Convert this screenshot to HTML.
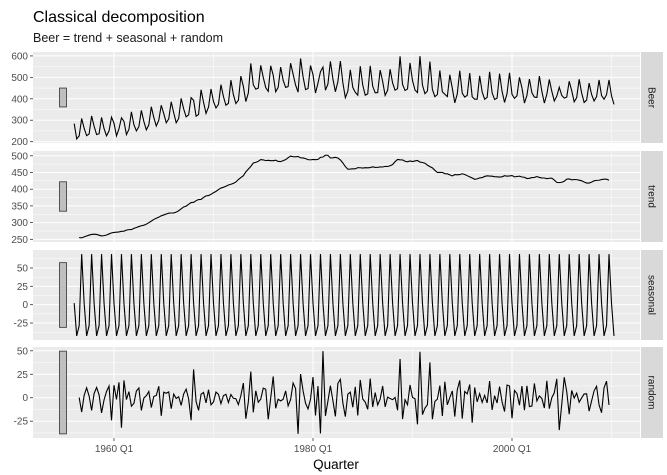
<!DOCTYPE html>
<html><head><meta charset="utf-8"><style>
body{margin:0;background:#fff;}
svg{display:block;font-family:"Liberation Sans",sans-serif;}
</style></head><body>
<svg id="chart" width="667" height="475">
<text x="33" y="22" font-size="16" fill="#000">Classical decomposition</text>
<text x="33" y="42" font-size="12.5" fill="#1a1a1a">Beer = trend + seasonal + random</text>
<text x="336" y="469" font-size="13.5" fill="#000" text-anchor="middle">Quarter</text>
</svg>
<script>
// Quarterly Australian beer production, 1956 Q1 - 2010 Q2
const beer = [284,213,227,308, 262,228,236,320, 272,233,237,313, 261,227,250,314, 286,227,260,311,
295,233,257,339, 279,250,270,346, 294,255,278,363, 313,273,300,370, 331,288,306,386,
335,288,308,402, 353,316,325,405, 393,319,327,442, 383,332,361,446, 387,357,374,466,
410,370,379,487, 419,378,393,506, 458,387,427,565, 465,445,450,556, 500,452,435,554,
510,433,453,548, 486,453,457,566, 515,464,431,588, 503,443,448,555, 513,427,473,526,
548,440,469,575, 493,433,480,576, 475,405,435,535, 453,430,417,552, 464,417,423,554,
459,428,429,534, 481,416,440,538, 474,440,447,598, 467,439,446,567, 485,441,429,599,
464,424,436,574, 443,410,420,532, 433,421,410,512, 449,381,423,531, 426,408,416,520,
409,398,398,507, 432,398,406,526, 428,397,403,517, 435,383,424,521, 421,402,414,500,
451,380,416,492, 428,408,406,506, 435,380,421,490, 435,390,412,454, 416,403,408,482,
438,386,405,491, 427,383,394,473, 420,390,410,488, 415,398,419,488, 414,374];
const startYear = 1956;
const panelNames = ["Beer","trend","seasonal","random"];
const xTickLabels = ["1960 Q1","1980 Q1","2000 Q1"];
const xTickYears = [1960,1980,2000];
const xMinorYears = [1970,1990,2010];
const yTicks = [[200,300,400,500,600],[250,300,350,400,450,500],[-25,0,25,50],[-25,0,25,50]];

// classical additive decomposition
const n = beer.length;
const trend = beer.map((v,i)=> (i>=2 && i<=n-3) ?
  (beer[i-2]/2+beer[i-1]+beer[i]+beer[i+1]+beer[i+2]/2)/4 : null);
const qs=[0,0,0,0], qc=[0,0,0,0];
beer.forEach((v,i)=>{ if(trend[i]!==null){qs[i%4]+=v-trend[i];qc[i%4]++;} });
let qm = qs.map((s,k)=>s/qc[k]);
const mm = qm.reduce((a,b)=>a+b,0)/4; qm = qm.map(v=>v-mm);
const seasonal = beer.map((v,i)=>qm[i%4]);
const random = beer.map((v,i)=> trend[i]===null?null : v-trend[i]-seasonal[i]);
const series=[beer,trend,seasonal,random];

const svg=document.getElementById('chart');
const NS="http://www.w3.org/2000/svg";
function el(tag,attrs,parent){const e=document.createElementNS(NS,tag);for(const k in attrs)e.setAttribute(k,attrs[k]);(parent||svg).appendChild(e);return e;}
const PL=33, PR=640;
const panels=[[52,143],[151,242],[250,340],[347,438]];
const x=t=>114+(t-1960)*9.95;
const tOf=i=>startYear+i/4;

// ranges
const rng=series.map(s=>{const v=s.filter(a=>a!==null);return [Math.min(...v),Math.max(...v)];});
const barLen=Math.min(...rng.map(r=>r[1]-r[0]));

series.forEach((s,p)=>{
  const [top,bot]=panels[p];
  const [lo,hi]=rng[p]; const pad=(hi-lo)*0.05;
  const y=v=>bot-(v-(lo-pad))/((hi+pad)-(lo-pad))*(bot-top);
  const g=el('g',{});
  
  
  const bg=el('rect',{x:PL,y:top,width:PR-PL,height:bot-top,fill:'#ebebeb'},g);
  
  
  const ticks=yTicks[p];
  const step=ticks[1]-ticks[0];
  for(let k=0;k<=ticks.length;k++){
    const mv=ticks[0]-step/2+k*step;
    if(mv>lo-pad&&mv<hi+pad){const ln=el('line',{x1:PL,x2:PR,y1:y(mv),y2:y(mv),stroke:'#fff','stroke-width':0.5},g);
      }
  }
  xMinorYears.forEach(yr=>{const ln=el('line',{x1:x(yr),x2:x(yr),y1:top,y2:bot,stroke:'#fff','stroke-width':0.5},g);
    });
  ticks.forEach(tv=>{
    const ln=el('line',{x1:PL,x2:PR,y1:y(tv),y2:y(tv),stroke:'#fff','stroke-width':1},g);
    
    const tk=el('line',{x1:PL-3,x2:PL,y1:y(tv),y2:y(tv),stroke:'#333','stroke-width':0.8},g);
    
    const tx=el('text',{x:PL-5,y:y(tv)+3.5,'font-size':10,fill:'#4d4d4d','text-anchor':'end'},g);
    tx.textContent=tv;
    
  });
  xTickYears.forEach(yr=>{const ln=el('line',{x1:x(yr),x2:x(yr),y1:top,y2:bot,stroke:'#fff','stroke-width':1},g);
    });
  // scale bar
  const mid=(lo+hi)/2;
  const sb=el('rect',{x:59.5,y:y(mid+barLen/2),width:7,height:y(mid-barLen/2)-y(mid+barLen/2),fill:'#bfbfbf',stroke:'#333','stroke-width':0.8},g);
  
  // line
  let d='';let pen=false;
  s.forEach((v,i)=>{if(v===null){pen=false;return;}d+=(pen?'L':'M')+x(tOf(i)).toFixed(2)+','+y(v).toFixed(2);pen=true;});
  const path=el('path',{d:d,fill:'none',stroke:'#000','stroke-width':1.1},g);
  
  
  // strip
  const st=el('rect',{x:641,y:top,width:22,height:bot-top,fill:'#d9d9d9'},g);
  
  const cy=(top+bot)/2;
  const stt=el('text',{x:652,y:cy,'font-size':10,fill:'#1a1a1a','text-anchor':'middle',transform:'rotate(90 652 '+cy+')',dy:'0.35em'},g);
  stt.textContent=panelNames[p];
  
});
xTickYears.forEach((yr,k)=>{
  const tk=el('line',{x1:x(yr),x2:x(yr),y1:438,y2:441,stroke:'#333','stroke-width':0.8});
  
  const tx=el('text',{x:x(yr),y:452,'font-size':10,fill:'#4d4d4d','text-anchor':'middle'});
  tx.textContent=xTickLabels[k];
  
});
</script>
</body></html>
